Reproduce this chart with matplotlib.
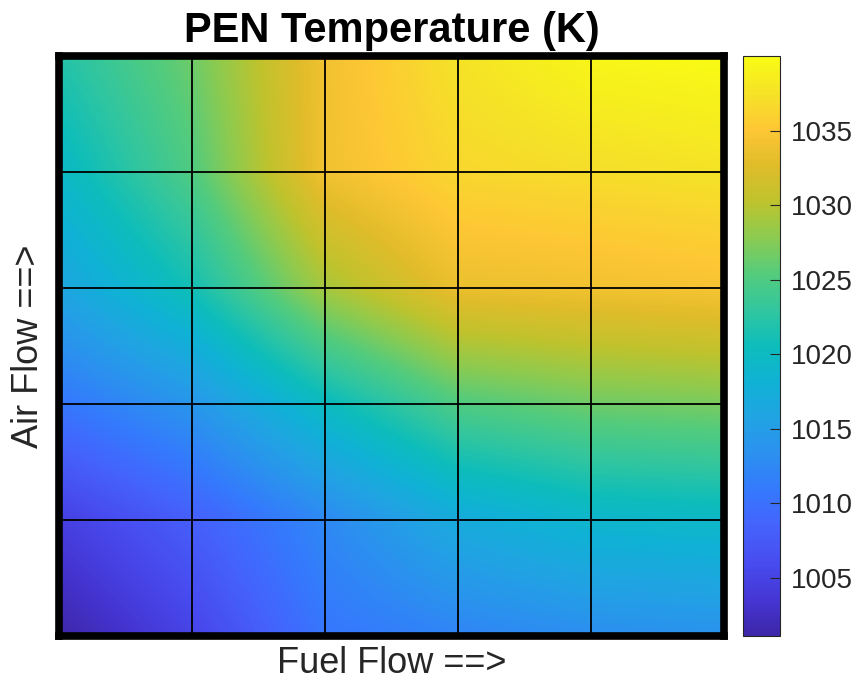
import numpy as np
import matplotlib
matplotlib.use("Agg")
import matplotlib.pyplot as plt
from matplotlib.colors import LinearSegmentedColormap

# Data: PEN temperature (K) at grid vertices, rows bottom (low air flow) -> top
fuel_flow = [0, 1, 2, 3, 4, 5]
air_flow = [0, 1, 2, 3, 4, 5]
row_air0 = [1001.1, 1005.0, 1010.5, 1012.0, 1013.0, 1013.5]
row_air1 = [1004.5, 1008.0, 1012.5, 1017.0, 1019.0, 1019.5]
row_air2 = [1010.5, 1014.0, 1020.0, 1025.0, 1026.5, 1027.0]
row_air3 = [1016.0, 1021.0, 1029.0, 1033.5, 1034.0, 1034.5]
row_air4 = [1019.5, 1025.0, 1034.0, 1036.5, 1037.0, 1037.5]
row_air5 = [1022.0, 1026.5, 1034.0, 1037.5, 1039.5, 1040.0]
cbar_ticks = [1005, 1010, 1015, 1020, 1025, 1030, 1035]

Z = np.array([row_air0, row_air1, row_air2, row_air3, row_air4, row_air5])

# Approximate MATLAB parula colormap
parula_anchors = [
    (0.2422, 0.1504, 0.6603), (0.2704, 0.2138, 0.8346), (0.2813, 0.2985, 0.9397),
    (0.2710, 0.3860, 0.9898), (0.2066, 0.4743, 0.9926), (0.1716, 0.5655, 0.9393),
    (0.1288, 0.6408, 0.8910), (0.0628, 0.6972, 0.8355), (0.0504, 0.7423, 0.7359),
    (0.1954, 0.7765, 0.6225), (0.3301, 0.8002, 0.4876), (0.5470, 0.7957, 0.3159),
    (0.7468, 0.7654, 0.1782), (0.8804, 0.7372, 0.1650), (0.9962, 0.7798, 0.2095),
    (0.9608, 0.8902, 0.1532), (0.9769, 0.9839, 0.0805)]
parula = LinearSegmentedColormap.from_list("parula", parula_anchors, N=256)

plt.rcParams['font.family'] = ['Liberation Sans', 'DejaVu Sans']

fig = plt.figure(figsize=(8.65, 6.85), dpi=100)
W, H = 865, 685
ax = fig.add_axes([59 / W, 1 - 636 / H, (724 - 59) / W, (636 - 56) / H])

# bilinear shading between vertex values (like MATLAB 'shading interp')
x0, x1 = min(fuel_flow), max(fuel_flow)
y0, y1 = min(air_flow), max(air_flow)
dx = (x1 - x0) / (len(fuel_flow) - 1)
dy = (y1 - y0) / (len(air_flow) - 1)
img = ax.imshow(Z, origin='lower', cmap=parula, vmin=Z.min(), vmax=Z.max(),
                extent=(x0 - dx / 2, x1 + dx / 2, y0 - dy / 2, y1 + dy / 2),
                interpolation='bilinear', interpolation_stage='data',
                aspect='auto', zorder=1)
ax.set_xlim(x0, x1)
ax.set_ylim(y0, y1)
ax.set_xticks(fuel_flow)
ax.set_yticks(air_flow)
ax.tick_params(length=0, labelbottom=False, labelleft=False)
ax.grid(True, color='black', linewidth=1.3, zorder=2)
ax.set_axisbelow(False)
for s in ax.spines.values():
    s.set_linewidth(5.5)
    s.set_color('black')
    s.set_zorder(3)

ax.set_title('PEN Temperature (K)', fontsize=30, fontweight='bold', pad=10)
ax.set_xlabel('Fuel Flow ==>', fontsize=26, color='#262626', labelpad=7)
ax.set_ylabel('Air Flow ==>', fontsize=26, color='#262626', labelpad=9)

cax = fig.add_axes([743 / W, 1 - 636 / H, 37 / W, (636 - 56) / H])
cb = fig.colorbar(img, cax=cax, ticks=cbar_ticks)
cb.outline.set_linewidth(0.8)
cb.outline.set_edgecolor('#262626')
cax.tick_params(direction='in', length=7, width=0.8, labelsize=20,
                colors='#262626', pad=8)

fig.savefig('out.png', dpi=100, facecolor='white')
